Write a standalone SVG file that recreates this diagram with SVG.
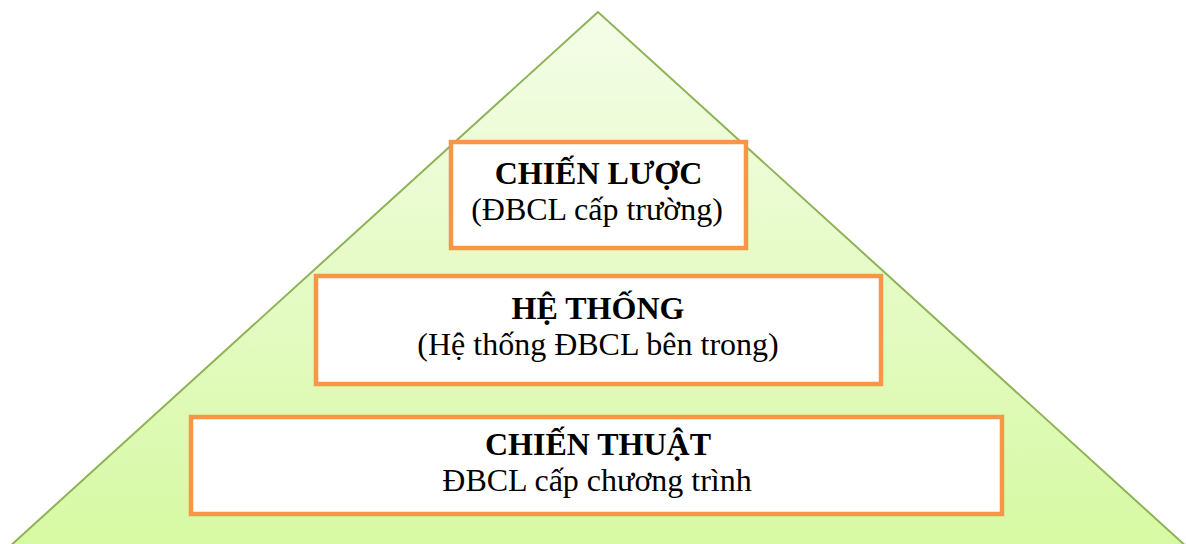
<svg xmlns="http://www.w3.org/2000/svg" width="1186" height="544" viewBox="0 0 1186 544">
<defs>
<linearGradient id="g" x1="0" y1="12" x2="0" y2="544" gradientUnits="userSpaceOnUse">
<stop offset="0" stop-color="#f4fde8"/>
<stop offset="1" stop-color="#d7f9a4"/>
</linearGradient>
<style>
.box{fill:#ffffff;stroke:#f79646;stroke-width:4.5}
.t{font-family:"Liberation Serif","Times New Roman",serif;font-size:32px;text-anchor:middle;fill:#000}
.b{font-weight:bold}
</style>
</defs>
<g id="pyramid">
<polygon points="598,12 8,548 1188,548" fill="url(#g)" stroke="#8db356" stroke-width="2"/>
</g>
<g id="connectors"></g>
<g id="node-chien-luoc">
<rect class="box" x="451" y="142" width="295" height="106"/>
<text class="t b" x="598.5" y="184">CHIẾN LƯỢC</text>
<text class="t" x="597" y="220">(ĐBCL cấp trường)</text>
</g>
<g id="node-he-thong">
<rect class="box" x="316" y="276" width="565" height="108"/>
<text class="t b" x="598" y="319">HỆ THỐNG</text>
<text class="t" x="598" y="355">(Hệ thống ĐBCL bên trong)</text>
</g>
<g id="node-chien-thuat">
<rect class="box" x="191" y="417" width="811" height="97"/>
<text class="t b" x="598" y="455">CHIẾN THUẬT</text>
<text class="t" x="597" y="491">ĐBCL cấp chương trình</text>
</g>
</svg>
